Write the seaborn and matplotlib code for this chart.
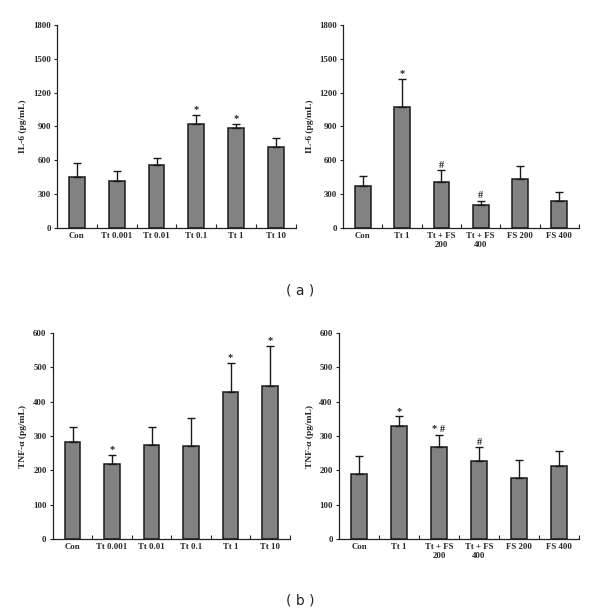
import numpy as np
import pandas as pd
import seaborn as sns
import matplotlib
matplotlib.use('Agg')
import matplotlib.pyplot as plt

sns.set_theme(style='ticks')
plt.rcParams['font.family'] = ['Liberation Serif', 'DejaVu Serif']

# data
groups_dose = ['Con', 'Tt 0.001', 'Tt 0.01', 'Tt 0.1', 'Tt 1', 'Tt 10']
groups_fs = ['Con', 'Tt 1', 'Tt + FS\n200', 'Tt + FS\n400', 'FS 200', 'FS 400']

il6_dose = [455, 414, 558, 922, 887, 715]
il6_dose_err = [117, 90, 66, 77, 38, 80]
il6_dose_sig = ['', '', '', '*', '*', '']

il6_fs = [372, 1073, 405, 207, 437, 236]
il6_fs_err = [93, 248, 106, 32, 116, 83]
il6_fs_sig = ['', '*', '#', '#', '', '']

tnf_dose = [283, 218, 274, 270, 427, 445]
tnf_dose_err = [44, 26, 53, 83, 87, 117]
tnf_dose_sig = ['', '*', '', '', '*', '*']

tnf_fs = [189, 329, 269, 228, 178, 212]
tnf_fs_err = [53, 28, 34, 39, 53, 44]
tnf_fs_sig = ['', '*', '* #', '#', '', '']


def bar_panel(ax, groups, vals, errs, sigs, ylabel, ymax, step):
    df = pd.DataFrame({'group': groups, 'value': vals})
    sns.barplot(data=df, x='group', y='value', ax=ax, color='#828282',
                saturation=1, width=0.4, edgecolor='#1a1a1a', linewidth=1.1)
    x = np.arange(len(groups))
    ax.errorbar(x, vals, yerr=[np.zeros(len(errs)), errs], fmt='none',
                ecolor='#1a1a1a', elinewidth=1.0, capsize=2.8, capthick=1.0)
    for xi, v, e, s in zip(x, vals, errs, sigs):
        if s:
            ax.text(xi, v + e + ymax * 0.004, s, ha='center', va='bottom',
                    fontsize=7.5, fontweight='bold')
    ax.set_xlim(-0.5, len(groups) - 0.5)
    ax.set_ylim(0, ymax)
    ax.set_yticks(np.arange(0, ymax + 1, step))
    ax.set_xticks(x)
    ax.set_xticks(x + 0.5, minor=True)
    ax.tick_params(axis='x', which='major', length=0, labelsize=6.3, pad=3)
    ax.tick_params(axis='x', which='minor', direction='in', length=3, width=0.8)
    ax.tick_params(axis='y', length=2.5, width=0.8, labelsize=6.3, pad=2)
    for lab in ax.get_xticklabels() + ax.get_yticklabels():
        lab.set_fontweight('bold')
    ax.set_xlabel('')
    ax.set_ylabel(ylabel, fontsize=6.8, fontweight='bold', labelpad=4)
    sns.despine(ax=ax)
    for side in ['left', 'bottom']:
        ax.spines[side].set_linewidth(0.9)
        ax.spines[side].set_color('#222222')


fig = plt.figure(figsize=(6.0, 6.14), dpi=100)
ax1 = fig.add_axes([0.095, 0.6287, 0.398, 0.3306])
ax2 = fig.add_axes([0.572, 0.6287, 0.393, 0.3306])
ax3 = fig.add_axes([0.088, 0.1221, 0.395, 0.3355])
ax4 = fig.add_axes([0.565, 0.1221, 0.400, 0.3355])

bar_panel(ax1, groups_dose, il6_dose, il6_dose_err, il6_dose_sig, 'IL-6 (pg/mL)', 1800, 300)
bar_panel(ax2, groups_fs, il6_fs, il6_fs_err, il6_fs_sig, 'IL-6 (pg/mL)', 1800, 300)
bar_panel(ax3, groups_dose, tnf_dose, tnf_dose_err, tnf_dose_sig, 'TNF-α (pg/mL)', 600, 100)
bar_panel(ax4, groups_fs, tnf_fs, tnf_fs_err, tnf_fs_sig, 'TNF-α (pg/mL)', 600, 100)

fig.text(0.5, 1 - 291 / 614, '( a )', ha='center', va='center',
         fontsize=10, family=['DejaVu Sans'])
fig.text(0.5, 1 - 601 / 614, '( b )', ha='center', va='center',
         fontsize=10, family=['DejaVu Sans'])

fig.savefig('out.png', dpi=100, facecolor='white')
